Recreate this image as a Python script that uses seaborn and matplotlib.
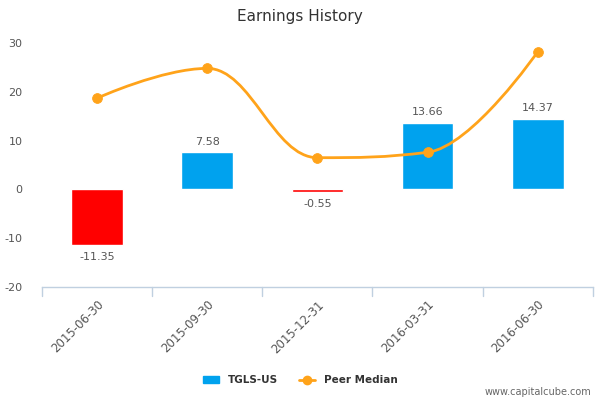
import numpy as np
import pandas as pd
import seaborn as sns
from matplotlib import pyplot as plt
from matplotlib.path import Path
from matplotlib.patches import PathPatch
from matplotlib.lines import Line2D
from matplotlib.patches import Patch

quarters = ["2015-06-30", "2015-09-30", "2015-12-31", "2016-03-31", "2016-06-30"]
tgls = [-11.35, 7.58, -0.55, 13.66, 14.37]
peer_median = [18.7, 24.8, 6.5, 7.6, 28.2]

BLUE = "#00A2EE"
RED = "#FF0000"
ORANGE = "#FFA31A"
TEXT = "#555555"


def spline_path(xs, ys, smoothing=1.5):
    # highcharts style spline: bezier control points per point
    denom = smoothing + 1
    n = len(xs)
    left = [None] * n
    right = [None] * n
    for i in range(1, n - 1):
        lx, ly = xs[i - 1], ys[i - 1]
        px, py = xs[i], ys[i]
        nx, ny = xs[i + 1], ys[i + 1]
        lcx = (smoothing * px + lx) / denom
        lcy = (smoothing * py + ly) / denom
        rcx = (smoothing * px + nx) / denom
        rcy = (smoothing * py + ny) / denom
        corr = (rcy - lcy) * (rcx - px) / (rcx - lcx) + py - rcy
        lcy += corr
        rcy += corr
        if lcy > ly and lcy > py:
            lcy = max(ly, py)
            rcy = 2 * py - lcy
        elif lcy < ly and lcy < py:
            lcy = min(ly, py)
            rcy = 2 * py - lcy
        if rcy > ny and rcy > py:
            rcy = max(ny, py)
            lcy = 2 * py - rcy
        elif rcy < ny and rcy < py:
            rcy = min(ny, py)
            lcy = 2 * py - rcy
        left[i] = (lcx, lcy)
        right[i] = (rcx, rcy)
    verts = [(xs[0], ys[0])]
    codes = [Path.MOVETO]
    for i in range(1, n):
        c1 = right[i - 1] or (xs[i - 1], ys[i - 1])
        c2 = left[i] or (xs[i], ys[i])
        verts += [c1, c2, (xs[i], ys[i])]
        codes += [Path.CURVE4] * 3
    return Path(verts, codes)


df = pd.DataFrame({"quarter": quarters, "eps": tgls, "peer": peer_median})
df["color"] = np.where(df["eps"] < 0, RED, BLUE)

sns.set_style("white")
plt.rcParams["font.family"] = ["DejaVu Sans"]
plt.rcParams["axes.unicode_minus"] = False

fig = plt.figure(figsize=(6, 4), dpi=100)
ax = fig.add_axes([0.07, 0.2825, 0.918, 0.61])

sns.barplot(data=df, x="quarter", y="eps", hue="quarter", palette=list(df["color"]),
            width=0.47, legend=False, ax=ax, saturation=1)

xs = np.arange(len(quarters))
ax.add_patch(PathPatch(spline_path(xs, peer_median), fill=False, edgecolor=ORANGE, lw=2, zorder=4))
sns.scatterplot(x=xs, y=peer_median, color=ORANGE, s=50, edgecolor=ORANGE, zorder=5, ax=ax, legend=False)

for i, v in enumerate(tgls):
    if v >= 0:
        ax.text(i, v + 1.2, f"{v:.2f}", ha="center", va="bottom", fontsize=8, color=TEXT)
    else:
        ax.text(i, v - 1.4, f"{v:.2f}", ha="center", va="top", fontsize=8, color=TEXT)

ax.set_ylim(-20, 30)
ax.set_xlim(-0.5, len(quarters) - 0.5)
ax.set_yticks([-20, -10, 0, 10, 20, 30])
ax.set_yticklabels(["-20", "-10", "0", "10", "20", "30"])
ax.set_xticks(xs)
ax.set_xticklabels(quarters, rotation=45, ha="right", rotation_mode="anchor")
ax.tick_params(axis="y", length=0, labelsize=8, labelcolor=TEXT, pad=14)
ax.tick_params(axis="x", length=0, labelsize=8.5, labelcolor=TEXT, pad=8)
ax.set_xlabel("")
ax.set_ylabel("")
for s in ["top", "right", "left"]:
    ax.spines[s].set_visible(False)
ax.spines["bottom"].set_color("#C0D0E0")
ax.spines["bottom"].set_linewidth(1)
for x in np.arange(-0.5, len(quarters), 1):
    ax.plot([x, x], [-20, -21.8], color="#C0D0E0", lw=1, clip_on=False)

fig.text(0.5, 0.96, "Earnings History", ha="center", va="center", fontsize=11, color="#333333")

handles = [Patch(color=BLUE, label="TGLS-US"),
           Line2D([0], [0], color=ORANGE, lw=2, marker="o", markersize=6, label="Peer Median")]
fig.legend(handles=handles, loc="center", bbox_to_anchor=(0.5, 0.049), ncol=2, frameon=False,
           prop={"size": 7.5, "weight": "bold"}, labelcolor="#333333", handlelength=1.6, columnspacing=2)
fig.text(0.985, 0.02, "www.capitalcube.com", ha="right", va="center", fontsize=7, color="#666666")

fig.savefig("out.png", dpi=100)
